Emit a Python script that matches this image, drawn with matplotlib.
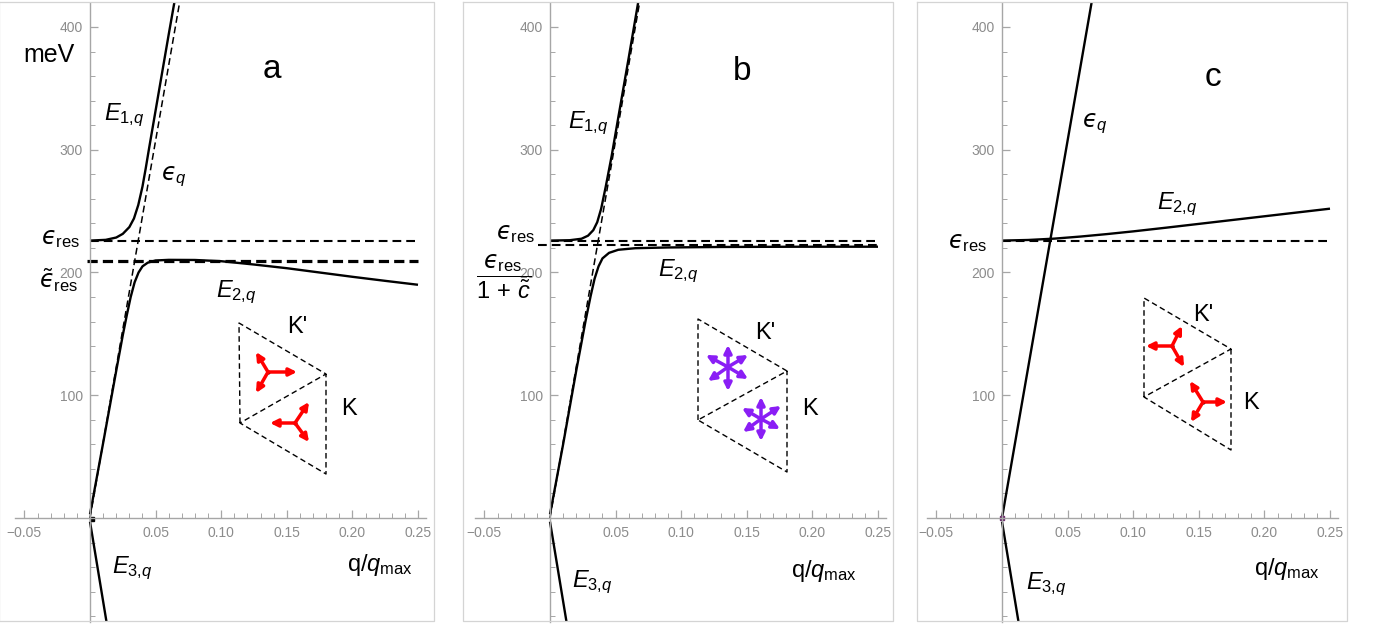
import matplotlib
matplotlib.use("Agg")
from matplotlib import pyplot as plt
import numpy as np

plt.rcParams['font.family'] = ['Liberation Sans', 'DejaVu Sans']
plt.rcParams['mathtext.fontset'] = 'custom'
plt.rcParams['mathtext.rm'] = 'Liberation Sans'
plt.rcParams['mathtext.it'] = 'Liberation Sans:italic'
plt.rcParams['mathtext.sf'] = 'DejaVu Sans:italic'   # used for the lunate epsilon only
plt.rcParams['mathtext.fallback'] = 'stixsans'

# ---- data (q/q_max, meV) ----
eps_res = 226.0
eps_res_tilde = 209.5      # panel a
eps_res_c = 222.6          # panel b, eps_res / (1 + c~)

eps_q_q = [0.0, 0.0683]
eps_q_E = [0.0, 420.0]

E3_q = [0.0, 0.0131]
E3_E = [-3.0, -88.0]

# panel a
E1a_q = [0, 0.012, 0.02, 0.025, 0.03, 0.0335, 0.0368, 0.04, 0.0425, 0.045, 0.05, 0.055, 0.06, 0.0643]
E1a_E = [226, 226.6, 228.5, 231.5, 237, 244, 255, 270, 285, 301, 332, 363, 394, 420]
E2a_q = [0, 0.01, 0.02, 0.025, 0.028, 0.031, 0.034, 0.037, 0.040, 0.044, 0.05, 0.06,
         0.08, 0.1, 0.125, 0.15, 0.175, 0.2, 0.225, 0.25]
E2a_E = [3, 61, 120, 149, 165, 180, 192, 200, 205, 208, 209.8, 210.3,
         210.2, 209.2, 206.5, 203.5, 200, 196.5, 193.2, 190]

# panel b
E1b_q = [0, 0.015, 0.024, 0.029, 0.033, 0.036, 0.039, 0.0425, 0.047, 0.052, 0.06, 0.0672]
E1b_E = [226, 226.3, 227.5, 230, 234.5, 241, 252, 270, 295, 326, 375, 420]
E2b_q = [0, 0.01, 0.02, 0.027, 0.031, 0.034, 0.037, 0.040, 0.045, 0.052, 0.065, 0.09, 0.13, 0.19, 0.25]
E2b_E = [3, 60, 120, 160, 181, 195, 205, 211.5, 216, 218.5, 219.8, 220.4, 220.8, 221, 221]

# panel c
E2c_q = [0, 0.02, 0.04, 0.06, 0.08, 0.1, 0.125, 0.15, 0.175, 0.2, 0.225, 0.25]
E2c_E = [226, 226.5, 227.6, 229.3, 231.3, 233.5, 236.5, 239.6, 242.7, 245.8, 248.9, 252]

xticks = [-0.05, 0.05, 0.10, 0.15, 0.20, 0.25]
xtick_labels = ['\u22120.05', '0.05', '0.10', '0.15', '0.20', '0.25']
yticks = [100, 200, 300, 400]

# inset (figure pixels): rhombus of two triangles, per panel
rhombus = {
    'a': [(239, 323), (326, 374), (240, 423), (326, 474)],
    'b': [(698, 319), (787, 371), (698, 420), (787, 472)],
    'c': [(1144, 298), (1231, 349), (1144, 397), (1231, 450)],
}
stars = {
    'a': [((268, 372), [(297, 372), (256, 352), (256, 393)]),
          ((295, 423), [(270, 423), (309, 402), (309, 442)])],
    'b': [((728, 367), [(728, 345), (728, 391), (706, 355), (748, 355), (708, 381), (748, 379)]),
          ((761, 419), [(761, 397), (761, 441), (742, 408), (781, 406), (743, 432), (780, 429)])],
    'c': [((1172, 346), [(1146, 346), (1182, 326), (1184, 367)]),
          ((1203, 402), [(1227, 402), (1190, 381), (1191, 422)])],
}
star_colors = {'a': 'red', 'b': '#8a1ef5', 'c': 'red'}

W, H = 1382, 625
fig = plt.figure(figsize=(W / 100, H / 100), dpi=100)

gray = '#8c8c8c'
px_per_q = 1312.0
px_per_E = 1.2275
x_axis_px = 518
top_px, bot_px = 3, 622


def make_panel(y_axis_px):
    qmin, qmax = -0.057, 0.256
    left = y_axis_px + qmin * px_per_q
    width = (qmax - qmin) * px_per_q
    ax = fig.add_axes([left / W, (H - bot_px) / H, width / W, (bot_px - top_px) / H])
    ax.set_xlim(qmin, qmax)
    ax.set_ylim((x_axis_px - bot_px) / px_per_E, (x_axis_px - top_px) / px_per_E)
    ax.patch.set_alpha(0)
    for s in ['top', 'right']:
        ax.spines[s].set_visible(False)
    ax.spines['left'].set_position(('data', 0))
    ax.spines['bottom'].set_position(('data', 0))
    for s in ['left', 'bottom']:
        ax.spines[s].set_color('#a6a6a6')
        ax.spines[s].set_linewidth(1.0)
    ax.set_xticks(xticks)
    ax.set_xticklabels(xtick_labels)
    ax.set_xticks(np.arange(-0.05, 0.2501, 0.01), minor=True)
    ax.set_yticks(yticks)
    ax.set_yticks(np.arange(-80, 401, 20), minor=True)
    ax.tick_params(which='both', direction='in', color='#a6a6a6', labelcolor=gray,
                   labelsize=10)
    ax.tick_params(which='major', length=6, width=0.9)
    ax.tick_params(which='minor', length=3.5, width=0.7)
    ax.tick_params(axis='x', which='major', pad=6)
    ax.tick_params(axis='y', which='major', pad=5)
    return ax


solid = dict(color='black', lw=1.7, solid_capstyle='butt', solid_joinstyle='round')
dash_res = dict(color='black', lw=1.5, dashes=(4.2, 2.4))
dash_q = dict(color='black', lw=1.1, dashes=(4.5, 2.5))

# panel a
axa = make_panel(90)
axa.plot([0, 0.25], [eps_res, eps_res], **dash_res)
axa.plot([-0.002, 0.25], [eps_res_tilde, eps_res_tilde], color='black', lw=2.3, dashes=(3.2, 1.6))
axa.plot(eps_q_q, eps_q_E, **dash_q)
axa.plot(E1a_q, E1a_E, **solid)
axa.plot(E2a_q, E2a_E, **solid)
axa.plot(E3_q, E3_E, **solid)
axa.plot([0.0015], [-1], marker='s', ms=2.5, color='black')

# panel b
axb = make_panel(550)
axb.plot([0, 0.25], [eps_res, eps_res], **dash_res)
axb.plot([-0.009, 0.25], [eps_res_c, eps_res_c], **dash_res)
axb.plot(eps_q_q, eps_q_E, **dash_q)
axb.plot(E1b_q, E1b_E, **solid)
axb.plot(E2b_q, E2b_E, **solid)
axb.plot(E3_q, E3_E, **solid)

# panel c
axc = make_panel(1002)
axc.plot([0, 0.25], [eps_res, eps_res], **dash_res)
axc.plot(eps_q_q, eps_q_E, **solid)
axc.plot(E2c_q, E2c_E, **solid)
axc.plot(E3_q, E3_E, **solid)
axc.plot([0], [0], marker='s', ms=3, color='#6a2a6a')

# overlay in figure pixels for frames, insets and labels
ov = fig.add_axes([0, 0, 1, 1])
ov.set_xlim(0, W)
ov.set_ylim(H, 0)
ov.axis('off')
ov.patch.set_alpha(0)

for x0, x1 in [(-1, 434), (463, 893), (917, 1347)]:
    ov.plot([x0, x1, x1, x0, x0], [2, 2, 621, 621, 2], color='#d4d4d4', lw=0.9)

for key, (tl, rt, bl, br) in rhombus.items():
    tri = dict(color='black', lw=1.0, dashes=(4, 2.5))
    ov.plot([bl[0], tl[0], rt[0], bl[0], br[0], rt[0]],
            [bl[1], tl[1], rt[1], bl[1], br[1], rt[1]], **tri)
    for centre, tips in stars[key]:
        for tip in tips:
            ov.annotate('', xy=tip, xytext=centre,
                        arrowprops=dict(arrowstyle='-|>', color=star_colors[key], lw=2.5,
                                        mutation_scale=11, shrinkA=0, shrinkB=0))
        ov.plot([centre[0]], [centre[1]], marker='o', ms=2, color='black')

big = 17
EPS = '\\mathsf{\u03f5}'   # lunate epsilon


def label(x, y, s, ha='left', va='baseline', size=big, color='black'):
    ov.text(x, y, s, ha=ha, va=va, fontsize=size, color=color)


# panel a labels
label(23, 62, 'meV', size=18)
label(272, 70, 'a', ha='center', va='center', size=24)
label(104, 120, r'$E_{1{,}q}$')
label(161, 180, r'$' + EPS + r'_q$')
label(80, 244, r'$' + EPS + r'_{\rm res}$', ha='right')
label(78, 288, r'$\tilde{' + EPS + r'}_{\rm res}$', ha='right')
label(216, 297, r'$E_{2{,}q}$')
label(287, 333, "K'")
label(341, 415, 'K')
label(112, 573, r'$E_{3{,}q}$')
label(347, 571, r'q/$q_{\rm max}$')

# panel b labels
label(742, 71, 'b', ha='center', va='center', size=24)
label(568, 128, r'$E_{1{,}q}$')
label(535, 239, r'$' + EPS + r'_{\rm res}$', ha='right')
label(504, 277, r'$\dfrac{' + EPS + r'_{\rm res}}{1\,+\,\tilde{c}}$', ha='center', va='center')
label(658, 276, r'$E_{2{,}q}$')
label(755, 339, "K'")
label(802, 415, 'K')
label(572, 587, r'$E_{3{,}q}$')
label(791, 577, r'q/$q_{\rm max}$')

# panel c labels
label(1213, 78, 'c', ha='center', va='center', size=24)
label(1082, 127, r'$' + EPS + r'_q$')
label(1157, 209, r'$E_{2{,}q}$')
label(987, 248, r'$' + EPS + r'_{\rm res}$', ha='right')
label(1193, 321, "K'")
label(1243, 409, 'K')
label(1026, 589, r'$E_{3{,}q}$')
label(1254, 575, r'q/$q_{\rm max}$')

fig.savefig('out.png', dpi=100, facecolor='white')
